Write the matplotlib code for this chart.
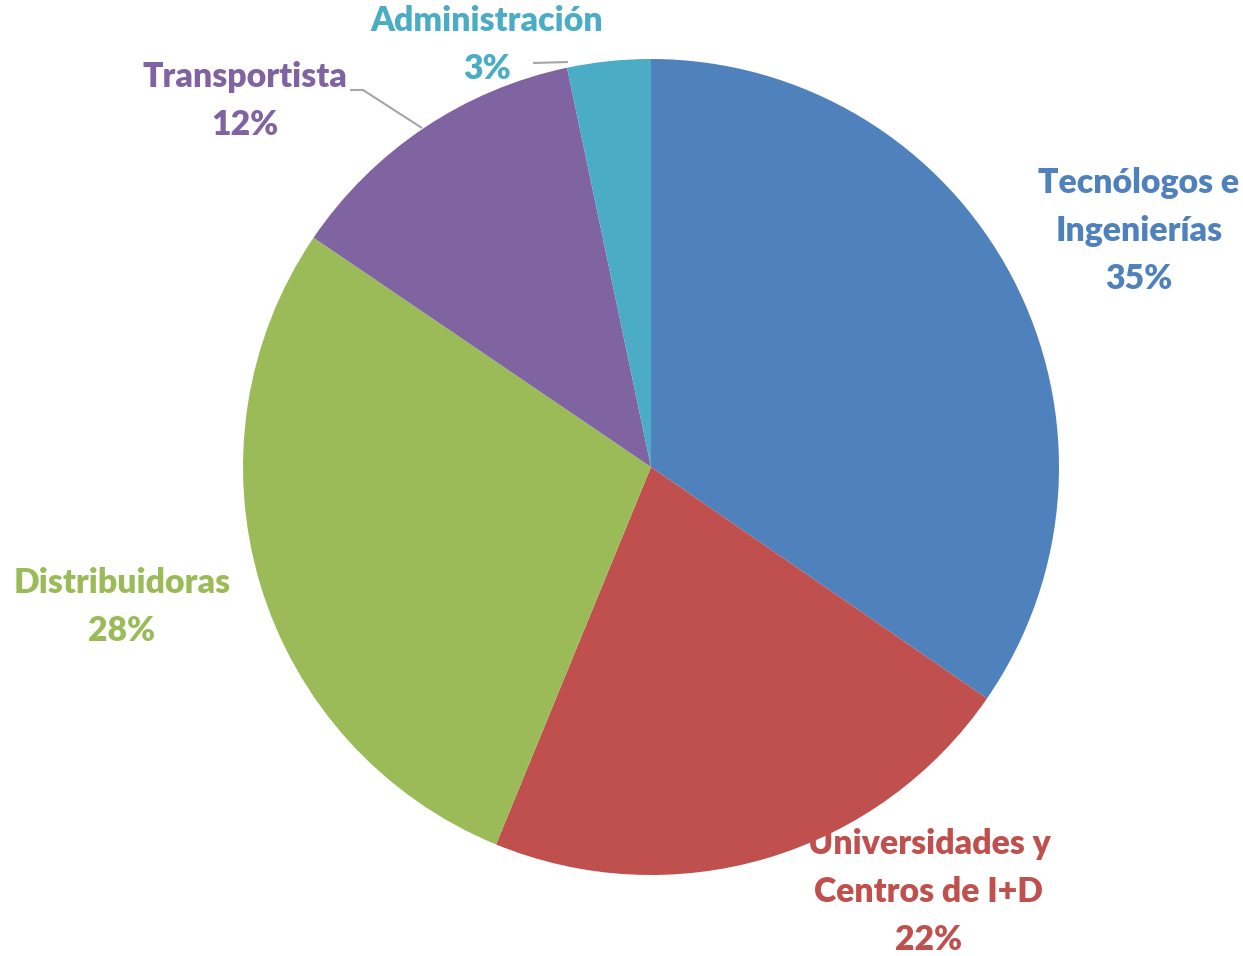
import matplotlib.pyplot as plt

# datos del grafico
categorias = ["Tecnólogos e\nIngenierías", "Universidades y\nCentros de I+D",
              "Distribuidoras", "Transportista", "Administración"]
valores = [34.6, 21.6, 28.3, 12.2, 3.3]
colores = ["#4F81BD", "#C0504D", "#9BBB59", "#8064A2", "#4BACC6"]

W, H = 1243, 956
cx, cy, R = 651, 467, 408


def px(x, y):
    # pixel -> coordenadas de datos (centro del pie en 0,0, radio 1)
    return (x - cx) / R, (cy - y) / R


fig = plt.figure(figsize=(W / 100, H / 100), dpi=100)
ax = fig.add_axes([0, 0, 1, 1])
ax.pie(valores, colors=colores, startangle=90, counterclock=False,
       radius=1, wedgeprops=dict(linewidth=0))
ax.set_xlim(-cx / R, (W - cx) / R)
ax.set_ylim(-(H - cy) / R, cy / R)
ax.set_aspect("equal")
ax.axis("off")

# posiciones de las etiquetas (centro del bloque, px)
pos_etiquetas = [(1139, 231), (929, 892), (122, 607), (245, 101), (487, 45)]
total = sum(valores)
for cat, v, c, (x, y) in zip(categorias, valores, colores, pos_etiquetas):
    txt = f"{cat}\n{round(v / total * 100):.0f}%"
    ax.text(*px(x, y), txt, ha="center", va="center", color=c,
            fontsize=24.3, fontweight="heavy", family="Lato", linespacing=1.6)

# lineas guia
for pts in ([(350, 90), (363, 90), (422, 128)], [(533, 63), (568, 62)]):
    xs, ys = zip(*[px(*p) for p in pts])
    ax.plot(xs, ys, color="#A6A6A6", lw=1.5, solid_capstyle="butt")

fig.savefig("out.png", dpi=100)
